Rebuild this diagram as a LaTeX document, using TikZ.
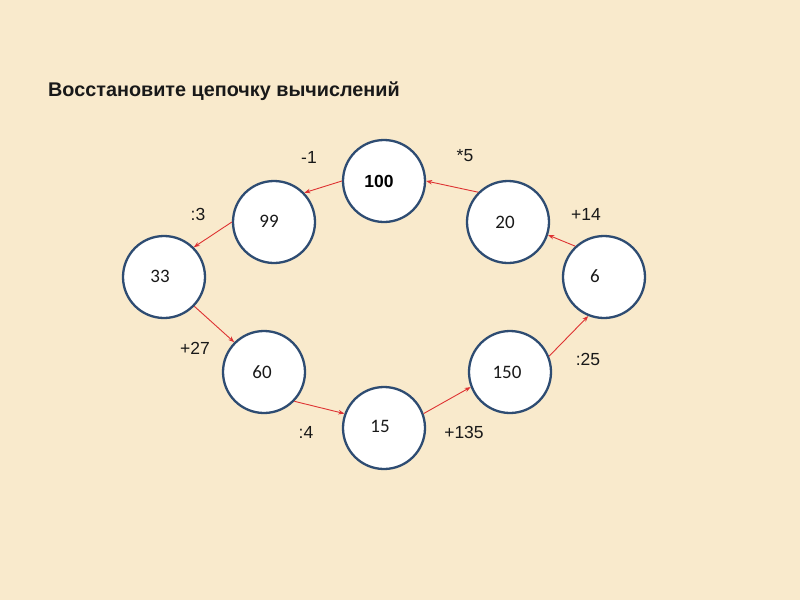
\documentclass[tikz,border=0pt]{standalone}
\usepackage{fontspec}
\setmainfont{Liberation Sans}
\newfontfamily\calibf{Carlito}
\usetikzlibrary{arrows.meta}
\definecolor{bgbeige}{RGB}{249,234,204}
\definecolor{ringblue}{RGB}{46,76,114}
\definecolor{arrred}{RGB}{222,50,50}
\definecolor{txtdark}{RGB}{25,25,25}
\tikzset{
  num/.style={circle, draw=ringblue, line width=2.3pt, fill=white, minimum size=82pt, inner sep=0pt},
  numtxt/.style={font=\calibf\fontsize{19}{22}\selectfont, text=txtdark},
  optxt/.style={font=\fontsize{17.5}{20}\selectfont, text=txtdark},
  link/.style={draw=arrred, line width=0.9pt, -{Stealth[length=6pt,width=4.5pt]}},
}
\begin{document}
\begin{tikzpicture}[x=1pt,y=-1pt]
\fill[bgbeige] (0,0) rectangle (800,600);
\useasboundingbox (0,0) rectangle (800,600);
\node[anchor=base west, font=\bfseries\fontsize{19.8}{23}\selectfont, text=txtdark, inner sep=0pt] (title) at (48,96) {Восстановите цепочку вычислений};

\node[num, label={[font=\bfseries\fontsize{17.5}{20}\selectfont, text=black, xshift=-5pt, yshift=0pt]center:100}] (n100) at (384,181) {};
\node[num, label={[numtxt, xshift=-5pt, yshift=1pt]center:99}] (n99) at (274,222) {};
\node[num, label={[numtxt, xshift=-4pt, yshift=1pt]center:33}] (n33) at (164,277) {};
\node[num, label={[numtxt, xshift=-2pt, yshift=0pt]center:60}] (n60) at (264,372) {};
\node[num, label={[numtxt, xshift=-4pt, yshift=2pt]center:15}] (n15) at (384,428) {};
\node[num, label={[numtxt, xshift=-3pt, yshift=0pt]center:150}] (n150) at (510,372) {};
\node[num, label={[numtxt, xshift=-9pt, yshift=1pt]center:6}] (n6) at (604,277) {};
\node[num, label={[numtxt, xshift=-3pt, yshift=0pt]center:20}] (n20) at (508,222) {};

\node[optxt] (lm1) at (309,157) {-1};
\node[optxt] (ld3) at (198,214) {:3};
\node[optxt] (lt5) at (465,156) {*5};
\node[optxt] (lp14) at (586,214) {+14};
\node[optxt] (lp27) at (195,348) {+27};
\node[optxt] (ld4) at (306,432) {:4};
\node[optxt] (lp135) at (464,432) {+135};
\node[optxt] (ld25) at (588,359) {:25};

\draw[link] (n100.west) -- (n99.44);
\draw[link] (n99.west) -- (n33.45);
\draw[link] (n33.-44) -- (n60.135);
\draw[link] (n60.-44) -- (n15.160);
\draw[link] (n15.20) -- (n150.201);
\draw[link] (n150.22) -- (n6.248);
\draw[link] (n6.133) -- (n20.-18);
\draw[link] (n20.135) -- (n100.east);
\end{tikzpicture}
\end{document}
